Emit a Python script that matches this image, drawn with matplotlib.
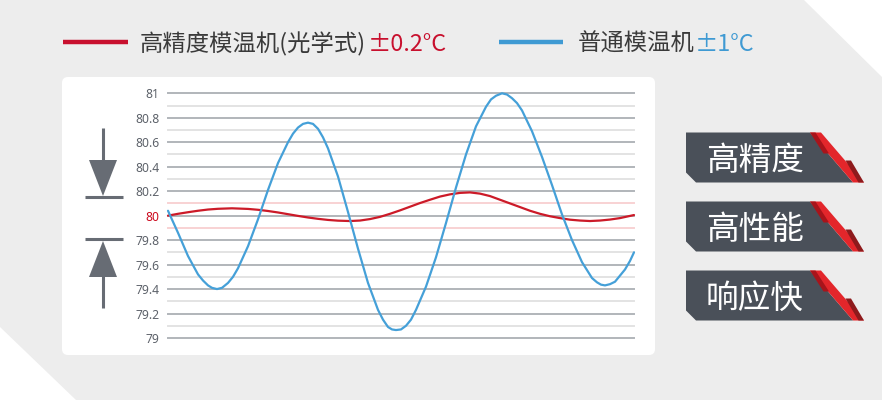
import matplotlib
matplotlib.use("Agg")
import matplotlib.pyplot as plt
from matplotlib.patches import Polygon, FancyBboxPatch

# ---------------- data ----------------
y_ticks = [79.0, 79.2, 79.4, 79.6, 79.8, 80.0, 80.2, 80.4, 80.6, 80.8, 81.0]
y_tick_labels = ["79", "79.2", "79.4", "79.6", "79.8", "80", "80.2", "80.4", "80.6", "80.8", "81"]
y_minor = [79.1, 79.3, 79.5, 79.7, 79.9, 80.1, 80.3, 80.5, 80.7, 80.9]
band = [79.9, 80.1]

blue_x = [0, 10, 20, 30, 35, 40, 44, 49, 54, 60, 65, 70, 80, 90, 100, 110, 120,
          125, 130, 135, 140, 145, 150, 155, 160, 170, 180, 190, 200, 210, 215,
          220, 224, 228, 233, 238, 243, 248, 258, 268, 278, 288, 298, 308, 318,
          323, 328, 334, 339, 344, 349, 354, 364, 374, 384, 394, 404, 414, 424,
          429, 433, 437, 442, 447, 452, 457, 462, 466]
blue_y = [80.04, 79.86, 79.67, 79.52, 79.47, 79.43, 79.41, 79.40, 79.41, 79.45,
          79.50, 79.57, 79.75, 79.97, 80.21, 80.43, 80.60, 80.67, 80.72, 80.75,
          80.76, 80.75, 80.71, 80.64, 80.55, 80.32, 80.03, 79.73, 79.45, 79.23,
          79.15, 79.09, 79.07, 79.065, 79.07, 79.10, 79.15, 79.23, 79.42, 79.66,
          79.94, 80.23, 80.50, 80.73, 80.89, 80.95, 80.98, 81.00, 80.99, 80.96,
          80.92, 80.86, 80.69, 80.48, 80.25, 80.01, 79.80, 79.62, 79.49, 79.455,
          79.436, 79.43, 79.44, 79.46, 79.51, 79.56, 79.63, 79.70]

red_x = [0, 10, 20, 30, 40, 50, 64, 80, 90, 100, 110, 120, 130, 140, 150, 160,
         170, 182, 192, 202, 212, 222, 232, 242, 252, 262, 272, 282, 292, 302,
         312, 322, 332, 342, 352, 362, 372, 382, 392, 402, 412, 422, 432, 442,
         452, 466]
red_y = [80.00, 80.015, 80.028, 80.04, 80.05, 80.056, 80.06, 80.055, 80.048,
         80.038, 80.026, 80.012, 79.998, 79.985, 79.974, 79.965, 79.959, 79.956,
         79.96, 79.972, 79.99, 80.015, 80.043, 80.073, 80.103, 80.13, 80.156,
         80.174, 80.186, 80.19, 80.18, 80.16, 80.13, 80.10, 80.07, 80.04, 80.015,
         79.995, 79.98, 79.967, 79.96, 79.956, 79.96, 79.968, 79.98, 80.005]

legend_red = "高精度模温机(光学式)"
legend_red_tol = "±0.2°C"
legend_blue = "普通模温机"
legend_blue_tol = "±1°C"
badges = ["高精度", "高性能", "响应快"]

# ---------------- styles ----------------
BG = "#ededed"
RED = "#c8102e"
BLUE = "#3f9ad3"
DARK = "#4a5059"
TXT = "#3a3a3a"
CJK = ["Noto Sans CJK SC", "DejaVu Sans"]

W, H = 882, 400
fig = plt.figure(figsize=(W / 100, H / 100), dpi=100, facecolor=BG)

bg = fig.add_axes([0, 0, 1, 1])
bg.set_xlim(0, W)
bg.set_ylim(H, 0)
bg.axis("off")
bg.set_facecolor(BG)

# white corner triangles
bg.add_patch(Polygon([(804, 0), (W, 0), (W, 77)], closed=True, fc="white", ec="none"))
bg.add_patch(Polygon([(0, 327), (0, H), (76, H)], closed=True, fc="white", ec="none"))

# chart panel
bg.add_patch(FancyBboxPatch((62, 77), 593, 278, boxstyle="round,pad=0,rounding_size=6",
                            fc="white", ec="none"))

# legend
bg.plot([63, 128], [42, 42], color=RED, lw=3.2, solid_capstyle="butt")
t1 = bg.text(140, 51, legend_red, fontsize=16.8, color=TXT, family=CJK, va="baseline", ha="left")
bg.annotate(legend_red_tol, xy=(1, 51), xycoords=(t1, "data"), xytext=(2, 0),
            textcoords="offset pixels", fontsize=16.8, color=RED,
            family=CJK, va="baseline", ha="left")
bg.plot([499, 563], [42, 42], color=BLUE, lw=3.2, solid_capstyle="butt")
t2 = bg.text(578, 51, legend_blue, fontsize=16.8, color=TXT, family=CJK, va="baseline", ha="left")
bg.annotate(legend_blue_tol, xy=(1, 51), xycoords=(t2, "data"), fontsize=16.8, color=BLUE,
            family=CJK, va="baseline", ha="left")

# arrows on the left
AC = "#676c74"
bg.plot([103, 103], [128, 162], color=AC, lw=2.2, solid_capstyle="butt")
bg.add_patch(Polygon([(89, 160), (117, 160), (103, 196)], closed=True, fc=AC, ec="none"))
bg.plot([85, 123], [197, 197], color=AC, lw=2.2, solid_capstyle="butt")
bg.plot([85, 123], [239, 239], color=AC, lw=2.2, solid_capstyle="butt")
bg.add_patch(Polygon([(89, 277), (117, 277), (103, 241)], closed=True, fc=AC, ec="none"))
bg.plot([103, 103], [275, 308], color=AC, lw=2.2, solid_capstyle="butt")

# badges
for i, label in enumerate(badges):
    top = 132.5 + i * 69
    bot = top + 50
    bg.add_patch(Polygon([(686, top), (810, top), (853, bot), (696, bot), (686, bot - 10)],
                         closed=True, fc=DARK, ec="none"))
    bg.add_patch(Polygon([(810, top), (821, top), (864, bot), (853, bot)],
                         closed=True, fc="#e3262b", ec="none"))
    bg.add_patch(Polygon([(810, top), (815.5, top), (829, top + 21), (823.5, top + 21)],
                         closed=True, fc="#a8141b", ec="none"))
    bg.add_patch(Polygon([(845.5, top + 28), (851, top + 28), (864, bot), (858.5, bot)],
                         closed=True, fc="#8e1a1c", ec="none"))
    bg.text(755, top + 37.5, label, fontsize=23.5, color="white", family=CJK,
            ha="center", va="baseline")

# ---------------- chart ----------------
left, right = 168 / W, 634 / W
bottom, top_ = (H - 338) / H, (H - 93.3) / H
ax = fig.add_axes([left, bottom, right - left, top_ - bottom])
ax.patch.set_alpha(0)
ax.set_xlim(0, 466)
ax.set_ylim(79, 81)
for s in ax.spines.values():
    s.set_visible(False)
ax.set_xticks([])

for v in y_minor:
    c = "#f8d2d3" if v in band else "#e3e3e3"
    ax.axhline(v, color=c, lw=1.4, zorder=1, clip_on=False)
for v in y_ticks:
    ax.axhline(v, color="#b1b5ba", lw=1.4, zorder=1, clip_on=False)

ax.set_yticks(y_ticks)
ax.set_yticklabels(y_tick_labels)
ax.tick_params(axis="y", length=0, pad=6, labelsize=8.7, labelcolor="#5d626a")
for lab in ax.get_yticklabels():
    lab.set_family("Noto Sans")
    if lab.get_text() == "80":
        lab.set_color("#cc0a1e")
        lab.set_fontweight("bold")

ax.plot(red_x, red_y, color="#cc1a28", lw=1.6, zorder=3, clip_on=False,
        solid_capstyle="round", solid_joinstyle="round")
ax.plot(blue_x, blue_y, color="#45a0d8", lw=1.6, zorder=4, clip_on=False,
        solid_capstyle="round", solid_joinstyle="round")

fig.savefig("out.png", dpi=100, facecolor=BG)
